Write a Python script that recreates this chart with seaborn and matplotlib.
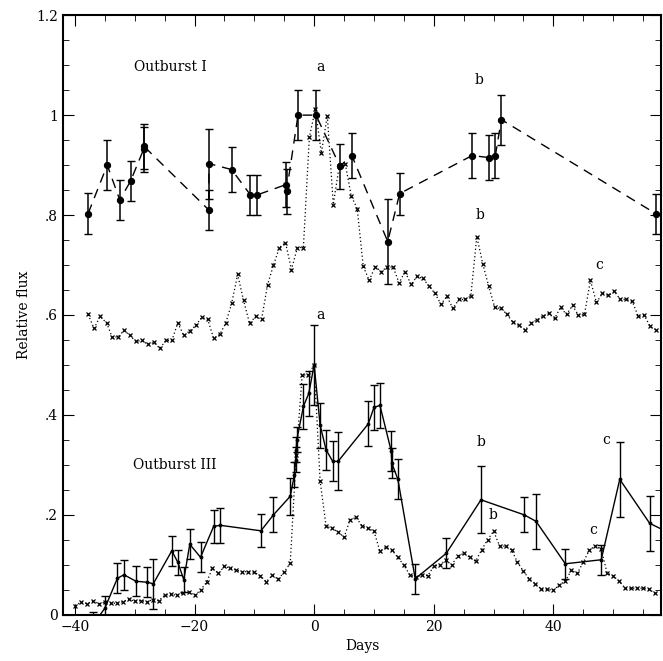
import numpy as np
import pandas as pd
import matplotlib
matplotlib.use("Agg")
from matplotlib import pyplot as plt
import seaborn as sns

# Outburst I, dashed with error bars
o1_day = [-37.8, -34.6, -32.5, -30.7, -28.5, -28.5, -17.6, -17.6, -13.8, -10.7, -9.6, -4.7, -4.6,
          -2.7, 0.3, 4.3, 6.3, 12.3, 14.3, 26.4, 29.3, 30.3, 31.3, 57.1]
o1_val = [0.803, 0.900, 0.830, 0.868, 0.932, 0.938, 0.810, 0.903, 0.891, 0.841, 0.840, 0.861, 0.848,
          1.000, 1.000, 0.898, 0.919, 0.747, 0.843, 0.919, 0.915, 0.919, 0.991, 0.803]
o1_err = [0.041, 0.05, 0.04, 0.04, 0.045, 0.045, 0.04, 0.07, 0.045, 0.04, 0.04, 0.045, 0.045,
          0.05, 0.05, 0.045, 0.045, 0.085, 0.042, 0.045, 0.045, 0.045, 0.05, 0.04]

# Outburst I comparison, dotted crosses
c1_day = [-37.8, -36.8, -35.8, -34.7, -33.8, -32.8, -31.8, -30.8, -29.8, -28.8, -27.8, -26.8, -25.8,
          -24.8, -23.8, -22.8, -21.8, -20.8, -19.8, -18.8, -17.8, -16.8, -15.8, -14.8, -13.8, -12.8,
          -11.8, -10.8, -9.8, -8.8, -7.8, -6.8, -5.8, -4.8, -3.8, -2.8, -1.8, -0.8, 0.2, 1.2, 2.2,
          3.2, 4.2, 5.2, 6.2, 7.2, 8.2, 9.2, 10.2, 11.2, 12.2, 13.2, 14.2, 15.2, 16.2, 17.2, 18.2,
          19.2, 20.2, 21.2, 22.2, 23.2, 24.2, 25.2, 26.2, 27.2, 28.2, 29.2, 30.2, 31.2, 32.2, 33.2,
          34.2, 35.3, 36.2, 37.2, 38.2, 39.2, 40.2, 41.2, 42.2, 43.2, 44.2, 45.2, 46.2, 47.2, 48.2,
          49.2, 50.2, 51.2, 52.2, 53.2, 54.2, 55.2, 56.2, 57.2]
c1_val = [0.601, 0.573, 0.597, 0.584, 0.556, 0.556, 0.569, 0.559, 0.547, 0.549, 0.541, 0.545, 0.533,
          0.549, 0.549, 0.584, 0.559, 0.568, 0.579, 0.595, 0.591, 0.553, 0.561, 0.583, 0.623, 0.681,
          0.629, 0.583, 0.597, 0.591, 0.660, 0.700, 0.735, 0.745, 0.691, 0.735, 0.735, 0.956, 1.012,
          0.924, 0.999, 0.821, 0.899, 0.903, 0.838, 0.813, 0.698, 0.669, 0.697, 0.687, 0.696, 0.696,
          0.664, 0.687, 0.661, 0.677, 0.673, 0.658, 0.643, 0.622, 0.637, 0.613, 0.631, 0.631, 0.638,
          0.757, 0.702, 0.657, 0.615, 0.613, 0.602, 0.586, 0.579, 0.570, 0.583, 0.590, 0.597, 0.603,
          0.593, 0.615, 0.601, 0.619, 0.599, 0.601, 0.669, 0.625, 0.643, 0.639, 0.647, 0.631, 0.631,
          0.627, 0.597, 0.599, 0.577, 0.570]

# Outburst III, solid with error bars
o3_day = [-37.0, -35.0, -32.9, -31.8, -29.8, -27.9, -26.9, -23.8, -22.8, -21.8, -20.8, -19.0, -16.8,
          -15.7, -8.9, -6.8, -4.0, -3.3, -3.1, -3.0, -2.9, -1.8, -0.9, 0.0, 1.0, 2.0, 3.1, 4.0,
          9.05, 10.0, 11.0, 12.9, 13.0, 14.0, 16.9, 22.1, 27.9, 35.1, 37.1, 42.0, 48.0, 51.1, 56.1, 60.0]
o3_val = [-0.02, 0.013, 0.073, 0.080, 0.067, 0.065, 0.062, 0.128, 0.105, 0.070, 0.141, 0.115, 0.177,
          0.179, 0.168, 0.200, 0.237, 0.280, 0.310, 0.330, 0.350, 0.417, 0.443, 0.500, 0.379, 0.330,
          0.307, 0.307, 0.382, 0.415, 0.419, 0.327, 0.303, 0.271, 0.072, 0.123, 0.230, 0.200, 0.187,
          0.102, 0.110, 0.271, 0.183, 0.16]
o3_err = [0.025, 0.025, 0.03, 0.03, 0.03, 0.03, 0.05, 0.03, 0.025, 0.025, 0.03, 0.03, 0.033,
          0.035, 0.033, 0.035, 0.037, 0.025, 0.025, 0.025, 0.025, 0.045, 0.045, 0.08, 0.045, 0.04,
          0.04, 0.058, 0.045, 0.045, 0.045, 0.04, 0.03, 0.04, 0.03, 0.03, 0.067, 0.035, 0.055,
          0.03, 0.03, 0.075, 0.055, 0.05]

# Outburst III comparison, dotted crosses
c3_day = list(range(-40, 58))
c3_val = [0.018, 0.025, 0.022, 0.027, 0.022, 0.025, 0.023, 0.023, 0.026, 0.031, 0.027, 0.028, 0.026,
          0.030, 0.028, 0.039, 0.041, 0.039, 0.043, 0.046, 0.039, 0.049, 0.065, 0.093, 0.083, 0.097,
          0.093, 0.089, 0.086, 0.086, 0.085, 0.078, 0.066, 0.079, 0.071, 0.086, 0.103, 0.320, 0.480,
          0.480, 0.500, 0.267, 0.177, 0.173, 0.166, 0.155, 0.190, 0.195, 0.178, 0.173, 0.167, 0.127,
          0.135, 0.129, 0.115, 0.099, 0.080, 0.075, 0.080, 0.078, 0.097, 0.100, 0.109, 0.100, 0.117,
          0.123, 0.115, 0.107, 0.130, 0.150, 0.167, 0.138, 0.137, 0.130, 0.105, 0.087, 0.071, 0.062,
          0.051, 0.051, 0.049, 0.060, 0.067, 0.089, 0.083, 0.105, 0.129, 0.138, 0.131, 0.083, 0.078,
          0.067, 0.053, 0.053, 0.053, 0.053, 0.051, 0.043]

labels = [("Outburst I", -24, 1.096), ("a", 1.0, 1.096), ("b", 27.6, 1.07), ("b", 27.7, 0.80),
          ("c", 47.7, 0.70), ("a", 1.0, 0.60), ("Outburst III", -23.3, 0.30), ("b", 27.9, 0.346),
          ("b", 29.9, 0.20), ("c", 48.9, 0.35), ("c", 46.7, 0.17)]

sns.set_style("ticks")
plt.rcParams['font.family'] = ['DejaVu Serif']

fig = plt.figure(figsize=(6.63, 6.61), dpi=100)
ax = fig.add_axes([0.095, 0.07, 0.902, 0.907])

cross = dict(color="k", lw=0.9, linestyle=(0, (1, 2)), marker="x", markersize=3.5,
             markeredgewidth=0.9, markeredgecolor="k", sort=False, estimator=None)
c1 = pd.DataFrame({"day": c1_day, "val": c1_val})
c3 = pd.DataFrame({"day": c3_day, "val": c3_val})
sns.lineplot(data=c1, x="day", y="val", ax=ax, **cross)
sns.lineplot(data=c3, x="day", y="val", ax=ax, **cross)

o1 = pd.DataFrame({"day": o1_day, "val": o1_val})
sns.lineplot(data=o1, x="day", y="val", ax=ax, color="k", lw=1.0, linestyle=(0, (7, 5)),
             marker="o", markersize=4.5, markeredgecolor="k", sort=False, estimator=None)
ax.errorbar(o1_day, o1_val, yerr=o1_err, fmt="none", ecolor="k", elinewidth=1.1, capsize=3)

o3 = pd.DataFrame({"day": o3_day, "val": o3_val})
sns.lineplot(data=o3, x="day", y="val", ax=ax, color="k", lw=1.0, marker="o", markersize=2,
             markeredgecolor="k", sort=False, estimator=None)
ax.errorbar(o3_day, o3_val, yerr=o3_err, fmt="none", ecolor="k", elinewidth=1.0, capsize=3)

for txt, x, y in labels:
    ax.text(x, y, txt, ha="center", va="center", fontsize=10, color="k")

ax.set_xlim(-42, 58)
ax.set_ylim(0, 1.2)
ax.set_xticks([-40, -20, 0, 20, 40])
ax.set_xticks(np.arange(-40, 58, 5), minor=True)
ax.set_yticks([0, 0.2, 0.4, 0.6, 0.8, 1.0, 1.2])
ax.set_yticklabels(["0", ".2", ".4", ".6", ".8", "1", "1.2"])
ax.set_yticks(np.arange(0, 1.21, 0.05), minor=True)
ax.tick_params(which="both", direction="in", top=True, right=True, labelsize=10,
               colors="k")
ax.tick_params(which="major", length=8)
ax.tick_params(which="minor", length=4)
for s in ax.spines.values():
    s.set_linewidth(1.5)
    s.set_color("k")
ax.set_xlabel("Days", fontsize=10, color="k")
ax.set_ylabel("Relative flux", fontsize=10, color="k")

fig.savefig("out.png", dpi=100)
